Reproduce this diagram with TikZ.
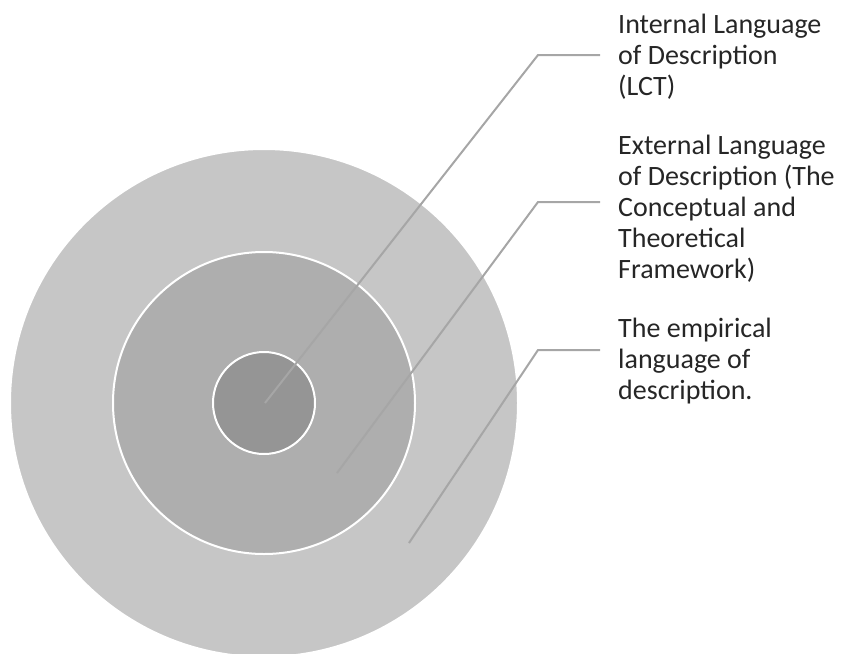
\documentclass[tikz,border=0pt]{standalone}
\usepackage{fontspec}
\setmainfont{Carlito}
\definecolor{ringA}{HTML}{C6C6C6}
\definecolor{ringB}{HTML}{AEAEAE}
\definecolor{ringC}{HTML}{959595}
\definecolor{leader}{HTML}{A6A6A6}
\definecolor{txt}{HTML}{262626}
\begin{document}
\begin{tikzpicture}[x=1pt,y=-1pt,
  ring/.style={draw=white,line width=2pt},
  leadline/.style={draw=leader,line width=2pt},
  lbl/.style={anchor=base west,inner sep=0pt,align=left,text=txt,
    font=\fontsize{28}{31}\selectfont}]
\useasboundingbox (0,0) rectangle (848,653);
\begin{scope}
\clip (0,0) rectangle (848,653);
\node[ring,circle,fill=ringA,minimum size=508pt,inner sep=0pt] (outer) at (264,403) {};
\node[ring,circle,fill=ringB,minimum size=302pt,inner sep=0pt] (middle) at (264,403) {};
\node[ring,circle,fill=ringC,minimum size=102pt,inner sep=0pt] (inner) at (264,403) {};
\end{scope}
\node[lbl] (l1) at (618,95) {Internal Language\\of Description\\(LCT)};
\node[lbl] (l2) at (618,278) {External Language\\of Description (The\\Conceptual and\\Theoretical\\Framework)};
\node[lbl] (l3) at (618,399) {The empirical\\language of\\description.};
\coordinate (p1) at (265,403);
\coordinate (k1) at (538,55);
\coordinate (e1) at (600,55);
\coordinate (p2) at (337,473);
\coordinate (k2) at (538,202);
\coordinate (e2) at (600,202);
\coordinate (p3) at (409,543);
\coordinate (k3) at (538,350);
\coordinate (e3) at (600,350);
\draw[leadline] (p1) -- (k1) -- (e1);
\draw[leadline] (p2) -- (k2) -- (e2);
\draw[leadline] (p3) -- (k3) -- (e3);
\end{tikzpicture}
\end{document}
